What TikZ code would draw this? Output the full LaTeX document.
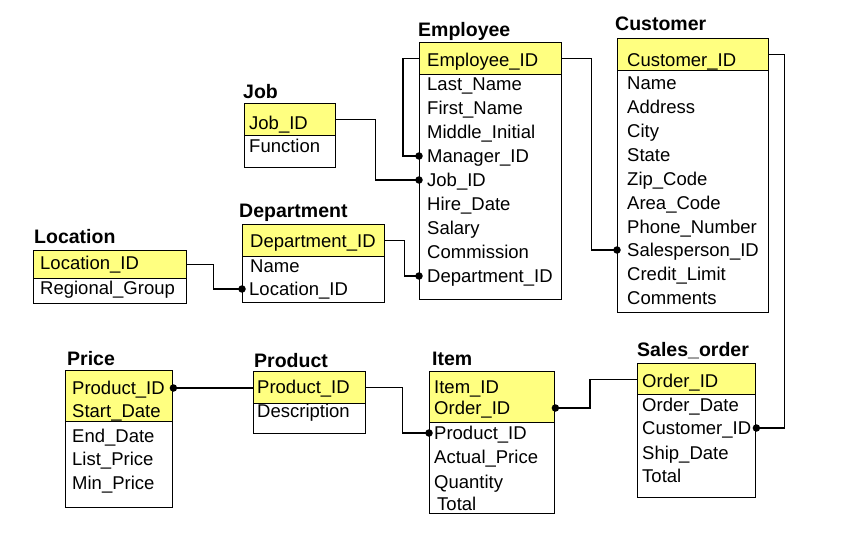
\documentclass[tikz,border=0pt]{standalone}
\usepackage{fontspec}
\setmainfont{Liberation Sans}
\begin{document}
\begin{tikzpicture}[x=1pt,y=-1pt,
  hdr/.style={draw=black,line width=1.4pt,fill=hdrfill,anchor=north west,inner sep=0pt},
  body/.style={draw=black,line width=1.4pt,fill=white,anchor=north west,inner sep=0pt},
  row/.style={anchor=west,inner sep=0pt,text height=13pt,text depth=0pt,font=\fontsize{18.5}{22}\selectfont},
  ttl/.style={anchor=base west,inner sep=0pt,font=\fontsize{19.5}{22}\selectfont\bfseries},
  fk/.style={draw=black,line width=1.4pt},
  dotn/.style={circle,fill=black,inner sep=0pt,minimum size=7.5pt}]
\definecolor{hdrfill}{RGB}{255,255,128}
\useasboundingbox[fill=white] (0,0) rectangle (851,540);

% ---------- Employee ----------
\node[ttl] (emp-t) at (418,37) {Employee};
\node[body,minimum width=142,minimum height=225] (emp-b) at (419,74) {};
\node[hdr,minimum width=142,minimum height=32] (emp-h) at (419,42) {};
\node[row] (emp-id) at (427,60) {Employee\_ID};
\node[row] (emp-ln) at (427,84) {Last\_Name};
\node[row] (emp-fn) at (427,108) {First\_Name};
\node[row] (emp-mi) at (427,132) {Middle\_Initial};
\node[row] (emp-mgr) at (427,156) {Manager\_ID};
\node[row] (emp-job) at (427,180) {Job\_ID};
\node[row] (emp-hd) at (427,204) {Hire\_Date};
\node[row] (emp-sal) at (427,228) {Salary};
\node[row] (emp-com) at (427,252) {Commission};
\node[row] (emp-dep) at (427,276) {Department\_ID};

% ---------- Customer ----------
\node[ttl] (cus-t) at (615,31) {Customer};
\node[body,minimum width=151,minimum height=242] (cus-b) at (617,70) {};
\node[hdr,minimum width=151,minimum height=32] (cus-h) at (617,38) {};
\node[row] (cus-id) at (627,60) {Customer\_ID};
\node[row] (cus-nm) at (627,83) {Name};
\node[row] (cus-ad) at (627,107) {Address};
\node[row] (cus-ci) at (627,131) {City};
\node[row] (cus-st) at (627,155) {State};
\node[row] (cus-zip) at (627,179) {Zip\_Code};
\node[row] (cus-ac) at (627,203) {Area\_Code};
\node[row] (cus-ph) at (627,227) {Phone\_Number};
\node[row] (cus-sp) at (627,250) {Salesperson\_ID};
\node[row] (cus-cl) at (627,274) {Credit\_Limit};
\node[row] (cus-cm) at (627,298) {Comments};

% ---------- Job ----------
\node[ttl] (job-t) at (243,99) {Job};
\node[body,minimum width=91,minimum height=32] (job-b) at (244,135) {};
\node[hdr,minimum width=91,minimum height=32] (job-h) at (244,103) {};
\node[row] (job-id) at (249,123) {Job\_ID};
\node[row] (job-fn) at (249,146) {Function};

% ---------- Department ----------
\node[ttl] (dep-t) at (239,218) {Department};
\node[body,minimum width=142,minimum height=46] (dep-b) at (242,256) {};
\node[hdr,minimum width=142,minimum height=32] (dep-h) at (242,224) {};
\node[row] (dep-id) at (250,241) {Department\_ID};
\node[row] (dep-nm) at (250,266) {Name};
\node[row] (dep-loc) at (249,289) {Location\_ID};

% ---------- Location ----------
\node[ttl] (loc-t) at (34,243) {Location};
\node[body,minimum width=153,minimum height=25] (loc-b) at (33,278) {};
\node[hdr,minimum width=153,minimum height=28] (loc-h) at (33,250) {};
\node[row] (loc-id) at (40,263) {Location\_ID};
\node[row] (loc-rg) at (40,288) {Regional\_Group};

% ---------- Price ----------
\node[ttl] (pri-t) at (67,365) {Price};
\node[body,minimum width=107,minimum height=86] (pri-b) at (65,421) {};
\node[hdr,minimum width=107,minimum height=51] (pri-h) at (65,370) {};
\node[row] (pri-pid) at (72,388) {Product\_ID};
\node[row] (pri-sd) at (72,411) {Start\_Date};
\node[row] (pri-ed) at (72,436) {End\_Date};
\node[row] (pri-lp) at (72,459) {List\_Price};
\node[row] (pri-mp) at (72,483) {Min\_Price};

% ---------- Product ----------
\node[ttl] (pro-t) at (254,367) {Product};
\node[body,minimum width=112,minimum height=30] (pro-b) at (253,403) {};
\node[hdr,minimum width=112,minimum height=32] (pro-h) at (253,371) {};
\node[row] (pro-id) at (257,387) {Product\_ID};
\node[row] (pro-ds) at (257,411) {Description};

% ---------- Item ----------
\node[ttl] (item-t) at (432,365) {Item};
\node[body,minimum width=125,minimum height=91] (item-b) at (429,422) {};
\node[hdr,minimum width=125,minimum height=51] (item-h) at (429,371) {};
\node[row] (item-id) at (434,387) {Item\_ID};
\node[row] (item-oid) at (434,408) {Order\_ID};
\node[row] (item-pid) at (434,433) {Product\_ID};
\node[row] (item-ap) at (434,457) {Actual\_Price};
\node[row] (item-q) at (434,482) {Quantity};
\node[row] (item-tot) at (437,504) {Total};

% ---------- Sales_order ----------
\node[ttl] (so-t) at (637,356) {Sales\_order};
\node[body,minimum width=118,minimum height=103] (so-b) at (637,394) {};
\node[hdr,minimum width=118,minimum height=31] (so-h) at (637,363) {};
\node[row] (so-id) at (642,381) {Order\_ID};
\node[row] (so-od) at (642,405) {Order\_Date};
\node[row] (so-cus) at (642,428) {Customer\_ID};
\node[row] (so-sd) at (642,453) {Ship\_Date};
\node[row] (so-tot) at (642,476) {Total};

% ---------- connectors ----------
\path[fk] (emp-h.west) -- ++(-16,0) |- (emp-b.west |- emp-mgr) node[dotn]{};
\path[fk] (job-h.east) -- ++(39,0) |- (emp-b.west |- emp-job) node[dotn]{};
\path[fk] (dep-h.east) -- ++(19,0) |- (emp-b.west |- emp-dep) node[dotn]{};
\path[fk] (loc-h.east) -- ++(26,0) |- (dep-b.west |- dep-loc) node[dotn]{};
\path[fk] (emp-h.east) -- ++(29,0) |- (cus-b.west |- cus-sp) node[dotn]{};
\path[fk] (cus-h.east) -- ++(15,0) |- (so-b.east |- so-cus) node[dotn]{};
\path[fk] (pro-h.west |- pri-pid) -- (pri-h.east |- pri-pid) node[dotn]{};
\path[fk] (pro-h.east) -- ++(36,0) |- (item-b.west |- item-pid) node[dotn]{};
\path[fk] (so-h.west) -- ++(-47,0) |- (item-h.east |- item-oid) node[dotn]{};
\end{tikzpicture}
\end{document}
